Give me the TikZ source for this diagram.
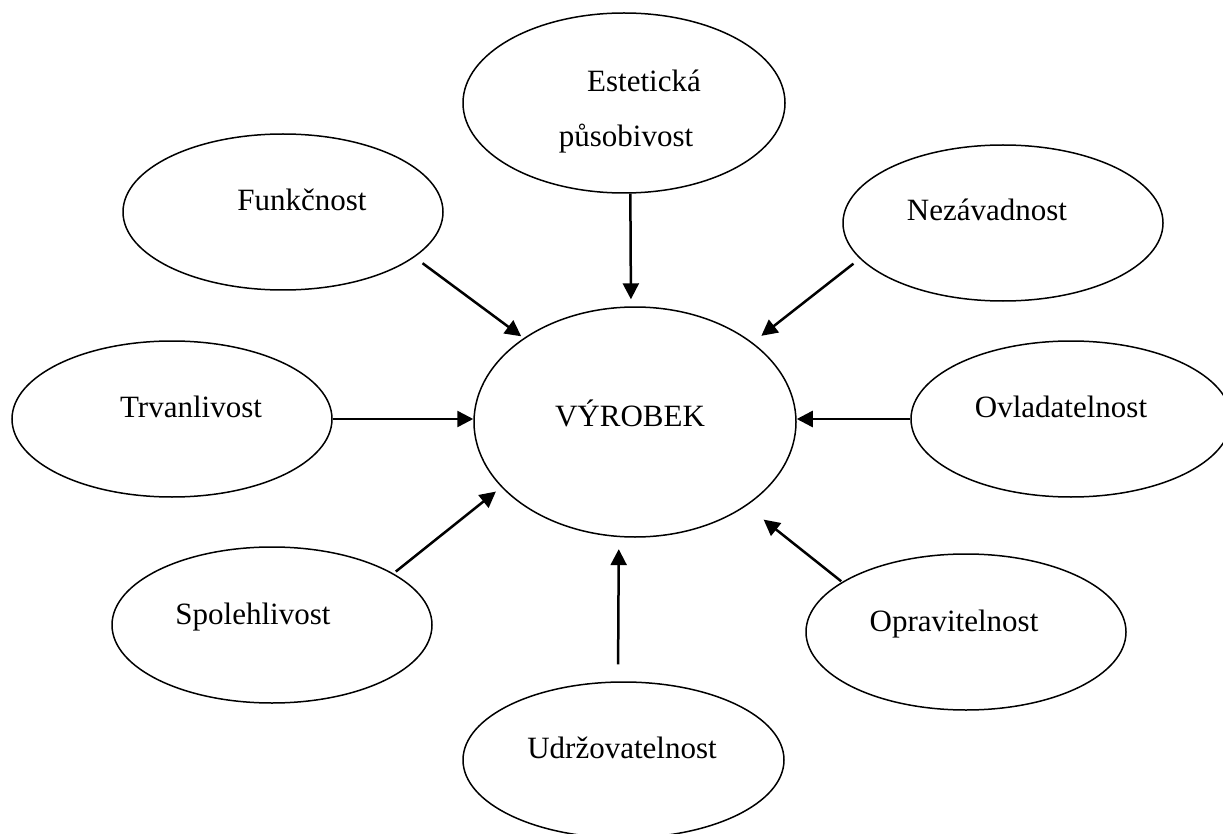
\documentclass[tikz,border=0pt]{standalone}
\usepackage{fontspec}
\setmainfont{Liberation Serif}
\usetikzlibrary{shapes.geometric,arrows.meta}
\begin{document}
\begin{tikzpicture}[x=1pt,y=-1pt,
  oval/.style={draw,ellipse,line width=1.5pt,inner sep=0pt,
               minimum width=320pt,minimum height=156pt},
  lbl/.style={anchor=base,font=\fontsize{31}{37}\selectfont,inner sep=0pt},
  arr/.style={-{Triangle[length=16pt,width=16pt]},line width=2.5pt}]
\useasboundingbox (0,0) rectangle (1223,834);

% property ellipses around the central product
\node[oval,minimum width=322pt,minimum height=180pt] (est) at (624,103) {};
\node[oval] (fun) at (283,212) {};
\node[oval] (nez) at (1003,223) {};
\node[oval,minimum width=322pt,minimum height=230pt] (vyr) at (635,422) {};
\node[oval] (trv) at (172,419) {};
\node[oval] (ovl) at (1071,419) {};
\node[oval] (spo) at (272,625) {};
\node[oval] (opr) at (966,632) {};
\node[oval,minimum width=321pt] (udr) at (623.5,760) {};

% texts
\node[lbl] (test1) at (644,92) {Estetická};
\node[lbl] (test2) at (626,147) {působivost};
\node[lbl] (tfun) at (302,211) {Funkčnost};
\node[lbl] (tnez) at (987,221) {Nezávadnost};
\node[lbl] (tvyr) at (630,426) {VÝROBEK};
\node[lbl] (ttrv) at (191,417) {Trvanlivost};
\node[lbl] (tovl) at (1061,417) {Ovladatelnost};
\node[lbl] (tspo) at (253,624) {Spolehlivost};
\node[lbl] (topr) at (954,631) {Opravitelnost};
\node[lbl] (tudr) at (622,758) {Udržovatelnost};

% arrows pointing to the product
\draw[arr,shorten >=7pt] (est.-86.8) -- (vyr.92.8);
\draw[arr,shorten <=10pt,shorten >=3pt] (fun.-19.9) -- (vyr.143.3);
\draw[arr,shorten <=8pt,shorten >=11pt] (nez.194.7) -- (vyr.34);
\draw[arr] (trv.east) -- (vyr.west |- trv.east);
\draw[arr] (ovl.west) -- (vyr.east |- ovl.west);
\draw[arr,shorten <=3pt,shorten >=7pt] (spo.23.3) -- (vyr.206.6);
\draw[arr,shorten <=1pt,shorten >=22pt] (opr.158.7) -- (vyr.-37.9);
\draw[arr,shorten <=17pt,shorten >=12pt] (udr.94.5) -- (vyr.-98.6);
\end{tikzpicture}
\end{document}
